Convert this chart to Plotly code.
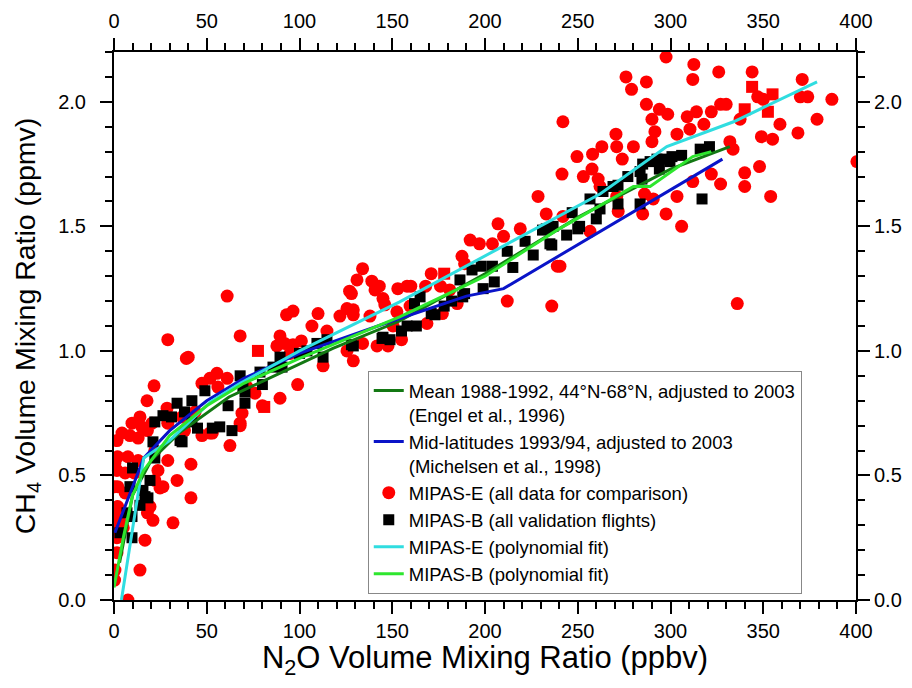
import plotly.graph_objects as go

# MIPAS-E (red circles), N2O ppbv / CH4 ppmv
mipas_e_n2o = [297.6, 312.6, 326, 344, 276, 287, 279, 312, 371, 374, 387, 370, 347, 350, 287, 294,
               298.5, 290, 309, 314, 322, 327, 330, 337.5, 359, 379, 242, 270.6, 291.6, 303.5, 310.5,
               318, 349, 355, 368.7, 263, 271, 280, 290, 249.6, 258, 274, 332, 333.7, 257.7, 241.5,
               253, 261, 322, 340, 348, 312, 327, 340, 303.5, 354, 286, 290.7, 271.8, 285, 297.6,
               306, 256.6, 240.4, 336, 400.5, 262, 271,
               228.6, 207, 210, 204, 192, 197, 187.6, 189, 219, 233, 242, 239, 212, 236, 171, 176,
               181, 168, 160, 153, 145, 140.7, 139, 134, 131, 128, 129, 146, 152.5, 159.6, 168.7,
               185, 177, 138, 150.4, 155, 141.8, 147.7, 134, 129, 158,
               143, 127, 61, 110, 96.5, 93, 125.6, 121.8, 129, 106.7, 114.8, 68, 89.5, 92, 87.8,
               96.5, 101, 95, 125.6, 112.7, 99, 89.5, 40, 55.5, 51.7, 61, 47.4, 56, 71.7, 69, 68,
               51.7, 62.5, 76, 29, 39,
               21.6, 17.8, 14, 4.3, 8.6, 1.6, 2, 7.5, 1.6, 6, 11, 2, 6, 2, 3, 1.6, 1.6, 0.5, 7.5,
               14, 16.7, 21, 19.4, 24.8, 26.4, 22, 31.8, 34, 41.5, 41.5, 29, 23.7, 22, 13, 18, 20.5,
               9.7, 15, 29, 36.7, 28.6, 38, 47.4, 53, 68, 80, 43.7, 0.3, 0.3, 0.5, 0.3, 5, 0.5, 13, 18]
mipas_e_ch4 = [2.18, 2.15, 2.12, 2.12, 2.10, 2.08, 2.05, 2.09, 2.09, 2.02, 2.01, 2.02, 2.02, 2.01, 1.99, 1.97,
               1.95, 1.93, 1.94, 1.96, 1.96, 1.99, 1.99, 1.93, 1.91, 1.93, 1.92, 1.87, 1.88, 1.87, 1.89,
               1.91, 1.86, 1.85, 1.875, 1.82, 1.82, 1.82, 1.84, 1.78, 1.79, 1.77, 1.84, 1.81, 1.73, 1.71,
               1.70, 1.69, 1.71, 1.715, 1.74, 1.68, 1.67, 1.66, 1.62, 1.62, 1.63, 1.61, 1.56, 1.55, 1.55,
               1.50, 1.48, 1.34, 1.19, 1.76, 1.66, 1.62,
               1.62, 1.51, 1.46, 1.43, 1.445, 1.43, 1.38, 1.35, 1.49, 1.55, 1.54, 1.34, 1.20, 1.18, 1.31, 1.26,
               1.245, 1.26, 1.26, 1.25, 1.21, 1.245, 1.28, 1.33, 1.285, 1.23, 1.165, 1.185, 1.157, 1.18, 1.11,
               1.19, 1.15, 1.14, 1.10, 1.045, 1.02, 1.02, 1.03, 0.96, 1.26,
               1.26, 1.24, 1.22, 1.15, 1.16, 1.145, 1.17, 1.14, 1.145, 1.10, 1.08, 1.06, 1.06, 1.03, 1.02,
               1.025, 1.04, 0.99, 1.00, 0.94, 0.865, 0.81, 0.975, 0.91, 0.89, 0.89, 0.87, 0.855, 0.855, 0.75, 0.71,
               0.67, 0.62, 0.83, 1.045, 0.97,
               0.86, 0.80, 0.735, 0.67, 0.66, 0.64, 0.575, 0.575, 0.52, 0.51, 0.51, 0.455, 0.43, 0.375, 0.32, 0.25, 0.19, 0.12, 0.0,
               0.12, 0.24, 0.32, 0.375, 0.45, 0.455, 0.48, 0.31, 0.48, 0.41, 0.545, 0.56, 0.52, 0.60, 0.65, 0.68, 0.71,
               0.71, 0.695, 0.71, 0.735, 0.77, 0.68, 0.66, 0.67, 0.70, 0.78, 0.755, 0.455, 0.35, 0.28, 0.08, 0.29, 0.55, 0.56, 0.35]

# a few red squares
red_sq_n2o = [77.6, 81, 178, 344, 355, 352.5, 340]
red_sq_ch4 = [1.0, 0.775, 1.31, 2.06, 2.03, 1.96, 1.97]

# MIPAS-B (black squares)
mipas_b_n2o = [3.2, 9.7, 9.7, 14, 16.7, 18.3, 15.6, 8.6, 19.4, 10, 22, 21, 36.7, 35.6, 22, 26.4, 31, 34, 38,
               42, 42, 45, 49, 53, 57, 63.6, 61.5, 70.6, 69.5, 80, 68, 78.7, 85.7, 89.5, 90.6, 70.6, 109.4,
               114.8, 112.7, 129, 144.5, 148.8, 145, 128, 7, 100, 104, 155, 158, 178, 182,
               162, 163, 171, 173, 165, 186.5, 188, 189, 193, 198, 199, 205, 204, 212, 215, 221.6, 226,
               231, 236.7, 236, 244, 247, 251, 233, 235,
               250, 256.6, 260, 263.6, 269, 271.7, 277, 283.6, 284.6, 285, 289, 292.7, 296, 299.7, 294,
               300.8, 306, 316, 321, 317, 283.6, 262, 271.7]
mipas_b_ch4 = [0.27, 0.25, 0.335, 0.38, 0.415, 0.41, 0.44, 0.455, 0.48, 0.53, 0.57, 0.635, 0.635, 0.64, 0.715, 0.74, 0.735, 0.79, 0.755,
               0.80, 0.715, 0.69, 0.84, 0.69, 0.695, 0.68, 0.78, 0.79, 0.855, 0.865, 0.90, 0.915, 0.935, 0.975, 0.935, 0.835, 1.03,
               1.045, 0.975, 1.02, 1.05, 1.045, 1.055, 1.025, 0.35, 0.99, 1.0, 1.08, 1.10, 1.18, 1.20,
               1.19, 1.10, 1.15, 1.145, 1.217, 1.285, 1.217, 1.23, 1.325, 1.34, 1.25, 1.277, 1.34, 1.40, 1.335, 1.44, 1.385,
               1.485, 1.50, 1.425, 1.465, 1.555, 1.50, 1.49, 1.43,
               1.49, 1.61, 1.53, 1.64, 1.66, 1.665, 1.70, 1.72, 1.69, 1.75, 1.76, 1.77, 1.77, 1.76, 1.73,
               1.78, 1.785, 1.81, 1.82, 1.61, 1.59, 1.57, 1.59]

# Engel et al. (dark green)
engel_n2o = [3, 10, 20, 35, 62, 118, 154, 200, 251, 300, 332]
engel_ch4 = [0.15, 0.42, 0.56, 0.67, 0.815, 1.01, 1.12, 1.31, 1.54, 1.73, 1.82]

# Michelsen et al. (blue)
mich_n2o = [0.5, 16, 30, 50, 70, 100, 150, 190, 210, 328]
mich_ch4 = [0.27, 0.57, 0.68, 0.80, 0.89, 0.99, 1.12, 1.22, 1.25, 1.77]

# MIPAS-E polynomial fit (cyan)
fit_e_n2o = [4, 16, 30, 52, 68, 100, 154, 200, 262, 298, 334, 379]
fit_e_ch4 = [0.0, 0.57, 0.64, 0.795, 0.87, 1.0, 1.197, 1.38, 1.63, 1.82, 1.92, 2.08]

# MIPAS-B polynomial fit (light green)
fit_b_n2o = [0, 5, 10, 16, 30, 50, 70, 100, 154, 200, 240, 280, 289, 312, 322]
fit_b_ch4 = [0.05, 0.25, 0.42, 0.52, 0.66, 0.78, 0.87, 0.97, 1.137, 1.30, 1.49, 1.66, 1.66, 1.78, 1.80]

x_ticks = [0, 50, 100, 150, 200, 250, 300, 350, 400]
y_ticks = [0, 0.5, 1.0, 1.5, 2.0]

FONT = "Liberation Sans, Arial, sans-serif"

fig = go.Figure()

fig.add_trace(go.Scatter(x=mipas_e_n2o, y=mipas_e_ch4, mode="markers",
                         name="MIPAS-E (all data for comparison)", legendrank=3,
                         marker=dict(symbol="circle", size=13, color="#ff0000", line_width=0)))
fig.add_trace(go.Scatter(x=red_sq_n2o, y=red_sq_ch4, mode="markers", showlegend=False,
                         marker=dict(symbol="square", size=12, color="#ff0000", line_width=0)))
fig.add_trace(go.Scatter(x=mipas_b_n2o, y=mipas_b_ch4, mode="markers",
                         name="MIPAS-B (all validation flights)", legendrank=4,
                         marker=dict(symbol="square", size=11, color="black", line_width=0)))
fig.add_trace(go.Scatter(x=engel_n2o, y=engel_ch4, mode="lines", legendrank=1,
                         name="Mean 1988-1992, 44°N-68°N, adjusted to 2003<br>(Engel et al., 1996)",
                         line=dict(color="#137813", width=3)))
fig.add_trace(go.Scatter(x=mich_n2o, y=mich_ch4, mode="lines", legendrank=2,
                         name="Mid-latitudes 1993/94, adjusted to 2003<br>(Michelsen et al., 1998)",
                         line=dict(color="#0a14c8", width=3)))
fig.add_trace(go.Scatter(x=fit_e_n2o, y=fit_e_ch4, mode="lines", legendrank=5,
                         name="MIPAS-E (polynomial fit)",
                         line=dict(color="#30dde0", width=3)))
fig.add_trace(go.Scatter(x=fit_b_n2o, y=fit_b_ch4, mode="lines", legendrank=6,
                         name="MIPAS-B (polynomial fit)",
                         line=dict(color="#2ee62e", width=3)))

# invisible trace so the top and right axes are drawn
fig.add_trace(go.Scatter(x=[0], y=[0], xaxis="x2", yaxis="y2", mode="markers",
                         marker=dict(opacity=0), showlegend=False, hoverinfo="skip"))

tick_common = dict(ticks="outside", ticklen=12, tickwidth=2, tickcolor="black",
                   showline=True, linewidth=2, linecolor="black", showgrid=False, zeroline=False,
                   tickfont=dict(family=FONT, size=20, color="black"))
x_minor = dict(dtick=10, ticks="outside", ticklen=7, tickwidth=2, tickcolor="black")
y_minor = dict(dtick=0.1, ticks="outside", ticklen=7, tickwidth=2, tickcolor="black")

# page body has an 8px margin, so the figure is 16px smaller than the window
fig.update_layout(
    width=896, height=672,
    margin=dict(l=106, r=48, t=44, b=80),
    paper_bgcolor="white", plot_bgcolor="white",
    font=dict(family=FONT, color="black"),
    xaxis=dict(range=[0, 400], tickvals=x_ticks, minor=x_minor, ticklabelstandoff=0,
               automargin=False,
               title=dict(text="N<sub>2</sub>O Volume Mixing Ratio (ppbv)",
                          font=dict(family=FONT, size=31), standoff=8),
               **tick_common),
    xaxis2=dict(range=[0, 400], overlaying="x", side="top", anchor="y",
                tickvals=x_ticks, minor=x_minor, ticklabelstandoff=2, automargin=False,
                **tick_common),
    yaxis=dict(range=[0, 2.2], tickvals=y_ticks, tickformat=".1f", minor=y_minor,
               ticklabelstandoff=10, automargin=True,
               title=dict(text="CH<sub>4</sub> Volume Mixing Ratio (ppmv)",
                          font=dict(family=FONT, size=28.5), standoff=14),
               **tick_common),
    yaxis2=dict(range=[0, 2.2], overlaying="y", side="right", anchor="x",
                tickvals=y_ticks, tickformat=".1f", minor=y_minor, ticklabelstandoff=0,
                automargin=False,
                **tick_common),
    legend=dict(x=0.342, y=0.011, xanchor="left", yanchor="bottom",
                bgcolor="white", bordercolor="#888888", borderwidth=1,
                font=dict(family=FONT, size=18.5, color="black"),
                valign="top", traceorder="normal"),
)

fig.write_html("out.html")
